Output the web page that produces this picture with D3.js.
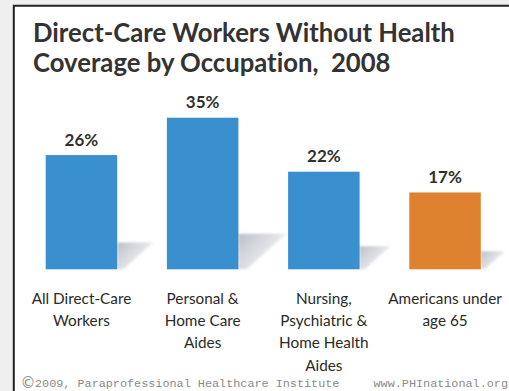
<!DOCTYPE html>
<html>
<head>
<meta charset="utf-8">
<script src="https://cdn.jsdelivr.net/npm/d3@7"></script>
<style>
  html, body { margin: 0; padding: 0; background: #efefef; }
  svg { display: block; }
  text { font-variant-ligatures: none; white-space: pre; }
</style>
</head>
<body>
<svg id="chart" width="509" height="391"></svg>
<script>
// Share of workers without health coverage, 2008
const categories = [
  ["All Direct-Care", "Workers"],
  ["Personal &", "Home Care", "Aides"],
  ["Nursing,", "Psychiatric &", "Home Health", "Aides"],
  ["Americans under", "age 65"]
];
const values = [26, 35, 22, 17];
const barColors = ["#3a8fcf", "#3a8fcf", "#3a8fcf", "#df822f"];
const titleLines = ["Direct-Care Workers Without Health", "Coverage by Occupation,  2008"];
const footerLeft = "2009, Paraprofessional Healthcare Institute";
const footerRight = "www.PHInational.org";

const W = 509, H = 391;
const svg = d3.select("#chart");

// Panel with dark frame on top and left
svg.append("rect").attr("x", 14).attr("y", 6).attr("width", W).attr("height", H)
  .attr("fill", "#ffffff");
svg.append("path")
  .attr("d", `M13.8,${H} L13.8,5.8 L${W},5.8`)
  .attr("fill", "none").attr("stroke", "#222").attr("stroke-width", 2);

// Title
svg.append("g").selectAll("text").data(titleLines).join("text")
  .attr("x", 33)
  .attr("y", (d, i) => 42.3 + i * 29.5)
  .attr("font-family", "Lato, 'Open Sans', sans-serif")
  .attr("font-weight", 700)
  .attr("font-size", 25.7)
  .attr("fill", "#333333")
  .text(d => d);

// Scales: the floor sits a little below zero, giving the bars a base
const x = d3.scaleBand()
  .domain(d3.range(values.length))
  .range([20.85, 505.65])
  .paddingInner(0.41)
  .paddingOuter(0.205);
const y = d3.scaleLinear().domain([-1.5, 35]).range([269.3, 117.7]);
const floorY = y(-1.5);

// Shadow gradient
const defs = svg.append("defs");
const grad = defs.append("linearGradient").attr("id", "shade")
  .attr("x1", 0).attr("y1", 0).attr("x2", 1).attr("y2", 0.7);
grad.append("stop").attr("offset", 0).attr("stop-color", "#b3b8c0").attr("stop-opacity", 0.9);
grad.append("stop").attr("offset", 0.55).attr("stop-color", "#cdd0d5").attr("stop-opacity", 0.65);
grad.append("stop").attr("offset", 1).attr("stop-color", "#ffffff").attr("stop-opacity", 0);
defs.append("filter").attr("id", "soft")
  .append("feGaussianBlur").attr("stdDeviation", 0.9);

// Floor shadows cast to the right of each bar
svg.append("g").selectAll("path").data(values).join("path")
  .attr("d", (d, i) => {
    const xr = x(i) + x.bandwidth();
    const h = floorY - y(d);
    const top = floorY - 0.235 * h;
    return `M${xr},${top} L${xr + 0.32 * h},${top} L${xr + 0.055 * h},${floorY} L${xr},${floorY} Z`;
  })
  .attr("fill", "url(#shade)")
  .attr("filter", "url(#soft)");

// Bars
svg.append("g").selectAll("rect").data(values).join("rect")
  .attr("x", (d, i) => x(i))
  .attr("y", d => y(d))
  .attr("width", x.bandwidth())
  .attr("height", d => floorY - y(d))
  .attr("fill", (d, i) => barColors[i]);

// Value labels
svg.append("g").selectAll("text").data(values).join("text")
  .attr("x", (d, i) => x(i) + x.bandwidth() / 2)
  .attr("y", d => y(d) - 9.5)
  .attr("text-anchor", "middle")
  .attr("font-family", "Lato, 'Open Sans', sans-serif")
  .attr("font-weight", 700)
  .attr("font-size", 17)
  .attr("fill", "#303030")
  .text(d => d + "%");

// Category labels
const catG = svg.append("g");
categories.forEach((lines, i) => {
  const t = catG.append("text")
    .attr("text-anchor", "middle")
    .attr("font-family", "Lato, 'Open Sans', sans-serif")
    .attr("font-size", 15.3)
    .attr("fill", "#2a2a2a");
  lines.forEach((ln, j) => {
    t.append("tspan")
      .attr("x", x(i) + x.bandwidth() / 2)
      .attr("y", 304 + j * 22.2)
      .text(ln);
  });
});

// Footer
svg.append("text")
  .attr("x", 20.5).attr("y", 388)
  .attr("font-family", "'DejaVu Sans', sans-serif")
  .attr("font-size", 15)
  .attr("fill", "#8a8a8a")
  .text("\u00A9");
svg.append("text")
  .attr("x", 35).attr("y", 387)
  .attr("font-family", "'Liberation Mono', 'DejaVu Sans Mono', monospace")
  .attr("font-size", 11.8)
  .attr("fill", "#8a8a8a")
  .text(footerLeft);
svg.append("text")
  .attr("x", 373.5).attr("y", 387)
  .attr("font-family", "'Liberation Mono', 'DejaVu Sans Mono', monospace")
  .attr("font-size", 11.8)
  .attr("fill", "#8a8a8a")
  .text(footerRight);
</script>
</body>
</html>
